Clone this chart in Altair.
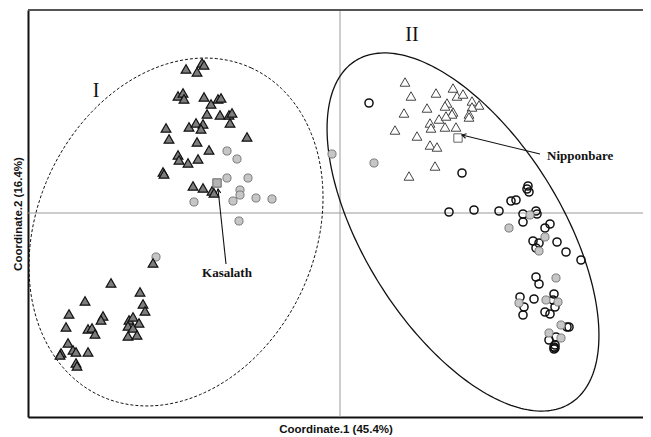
import math
import numpy as np
import pandas as pd
import altair as alt

# ---- data (Coordinate.1, Coordinate.2) ----
dark_tri_x = [-1.38, -1.36, -1.54, -1.43, -1.62, -1.57, -1.56, -1.36, -1.22, -1.19, -1.29, -1.33, -1.20, -1.11,
              -1.08, -1.10, -1.74, -1.51, -1.44, -1.37, -1.39, -1.71, -1.43, -1.31, -0.93, -1.62, -1.61, -1.52,
              -1.42, -1.77, -1.76, -1.47, -1.37, -1.28, -1.26,
              -1.87, -2.29, -2.00, -2.55, -1.97, -1.95, -2.71, -2.37, -2.39, -2.74, -2.11, -2.07, -2.01, -2.12,
              -2.07, -2.52, -2.48, -2.45, -2.12, -2.03, -2.72, -2.67, -2.64, -2.52, -2.79, -2.80, -2.64, -2.63]
dark_tri_y = [1.50, 1.48, 1.44, 1.41, 1.17, 1.20, 1.14, 1.16, 1.14, 1.15, 1.09, 0.99, 0.98, 0.98,
              1.00, 0.90, 0.85, 0.86, 0.90, 0.89, 0.84, 0.74, 0.71, 0.63, 0.76, 0.58, 0.53, 0.50,
              0.54, 0.41, 0.39, 0.27, 0.25, 0.22, 0.20,
              -0.50, -0.70, -0.79, -0.88, -0.91, -0.98, -1.01, -1.03, -1.07, -1.14, -1.07, -1.04, -1.10, -1.13,
              -1.15, -1.16, -1.15, -1.21, -1.23, -1.22, -1.30, -1.37, -1.39, -1.39, -1.40, -1.42, -1.50, -1.53]

gray_circ_x = [-1.13, -1.03, -1.13, -0.92, -1.00, -1.00, -1.07, -0.84, -0.68, -1.46, -1.01, -1.84, -0.08,
               0.34, 1.90, 1.69, 2.05, 1.99, 2.16, 1.79, 2.06, 2.18, 2.21, 2.09, 2.21]
gray_circ_y = [0.62, 0.54, 0.35, 0.35, 0.23, 0.18, 0.12, 0.15, 0.14, 0.11, -0.08, -0.44, 0.59,
               0.50, -0.02, -0.15, -0.24, -0.38, -0.65, -0.90, -0.87, -0.89, -1.12, -1.20, -1.25]

open_tri_x = [0.65, 0.71, 0.96, 1.13, 1.17, 1.23, 1.32, 1.39, 0.64, 0.87, 1.07, 1.05, 1.13, 1.12, 1.32,
              0.99, 1.06, 0.90, 0.91, 1.05, 1.16, 1.29, 1.29, 0.55, 0.77, 0.90, 0.97, 0.95, 0.69]
open_tri_y = [1.31, 1.17, 1.20, 1.25, 1.17, 1.19, 1.12, 1.08, 1.00, 1.05, 1.10, 1.07, 1.01, 0.99, 1.06,
              0.94, 0.97, 0.90, 0.85, 0.86, 0.86, 0.99, 0.96, 0.83, 0.77, 0.68, 0.66, 0.47, 0.37]

open_circ_x = [0.29, 1.22, 1.88, 1.89, 1.87, 1.71, 1.76, 1.09, 1.34, 1.59, 1.83, 1.83, 1.96, 1.97, 2.10,
               2.05, 1.93, 1.99, 1.96, 2.17, 2.26, 2.41, 1.96, 1.99, 1.80, 1.84, 1.83, 1.94, 2.14, 2.13,
               2.15, 2.05, 2.10, 2.27, 2.29, 2.09, 2.16, 2.14, 2.15, 2.14, 2.15]
open_circ_y = [1.10, 0.40, 0.27, 0.21, 0.24, 0.12, 0.13, 0.01, 0.03, 0.02, -0.01, -0.09, 0.02, -0.01, -0.11,
               -0.15, -0.28, -0.30, -0.35, -0.29, -0.39, -0.47, -0.64, -0.71, -0.84, -0.94, -1.02, -0.86,
               -0.81, -0.87, -0.94, -0.99, -1.01, -1.14, -1.14, -1.27, -1.24, -1.34, -1.35, -1.36, -1.32]

ref_names = ["Kasalath", "Nipponbare"]
ref_x = [-1.23, 1.18]
ref_y = [0.30, 0.75]
ref_fill = ["#b4b4b4", "#ffffff"]

# annotation arrows: label end -> variety point
arrow_x1 = [-1.14, 2.00]
arrow_y1 = [-0.51, 0.59]
arrow_x2 = [-1.22, 1.22]
arrow_y2 = [0.24, 0.78]
label_x = [-1.13, 2.07]
label_y = [-0.60, 0.57]

group_names = ["I", "II"]
group_x = [-2.44, 0.72]
group_y = [1.22, 1.78]

# ellipses: centre, semi-axes, orientation (deg)
ell_cx = [-1.64, 1.23]
ell_cy = [-0.19, -0.19]
ell_a = [1.805, 2.022]
ell_b = [1.389, 0.983]
ell_phi = [65.3, 122.1]

# ---- scales ----
W, H = 615, 407
xs = alt.Scale(domain=[-3.12, 3.03], nice=False, zero=False)
ys = alt.Scale(domain=[-2.04, 2.03], nice=False, zero=False)

axis_common = dict(labels=False, ticks=False, grid=False, domainColor="#111", domainWidth=2,
                   titleFont="Liberation Sans", titleFontSize=11.5, titleFontWeight="bold",
                   titleColor="#111")
xaxis = alt.Axis(title="Coordinate.1  (45.4%)", titlePadding=6, **axis_common)
yaxis = alt.Axis(title="Coordinate.2  (16.4%)", titlePadding=5, **axis_common)


def ellipse_df(i):
    t = np.linspace(0, 2 * np.pi, 241)
    p = math.radians(ell_phi[i])
    x = ell_cx[i] + ell_a[i] * np.cos(t) * math.cos(p) - ell_b[i] * np.sin(t) * math.sin(p)
    y = ell_cy[i] + ell_a[i] * np.cos(t) * math.sin(p) + ell_b[i] * np.sin(t) * math.cos(p)
    return pd.DataFrame({"x": x, "y": y, "o": np.arange(len(t))})


def X():
    return alt.X("x:Q", scale=xs, axis=xaxis)


def Y():
    return alt.Y("y:Q", scale=ys, axis=yaxis)


vline = alt.Chart(pd.DataFrame({"x": [0.0]})).mark_rule(color="#9a9a9a", strokeWidth=1).encode(x=X())
hline = alt.Chart(pd.DataFrame({"y": [0.0]})).mark_rule(color="#9a9a9a", strokeWidth=1).encode(y=Y())
top_frame = alt.Chart(pd.DataFrame({"k": [0]})).mark_rule(color="#555", strokeWidth=2).encode(
    x=alt.value(0), x2=alt.value(W), y=alt.value(0)
)

ell1 = alt.Chart(ellipse_df(0)).mark_line(color="#111", strokeWidth=1, strokeDash=[3, 2]).encode(
    x=X(), y=Y(), order="o:Q")
ell2 = alt.Chart(ellipse_df(1)).mark_line(color="#111", strokeWidth=1.3).encode(
    x=X(), y=Y(), order="o:Q")

open_c = alt.Chart(pd.DataFrame({"x": open_circ_x, "y": open_circ_y})).mark_point(
    shape="circle", filled=False, stroke="#111", strokeWidth=1.5, size=66, opacity=1).encode(x=X(), y=Y())
gray_c = alt.Chart(pd.DataFrame({"x": gray_circ_x, "y": gray_circ_y})).mark_point(
    shape="circle", filled=True, fill="#c6c6c6", stroke="#7a7a7a", strokeWidth=1, size=66, opacity=1,
    fillOpacity=1).encode(x=X(), y=Y())
dark_t = alt.Chart(pd.DataFrame({"x": dark_tri_x, "y": dark_tri_y})).mark_point(
    shape="triangle-up", filled=True, fill="#7d7d7d", stroke="#111", strokeWidth=1.2, size=95, opacity=1,
    fillOpacity=1).encode(x=X(), y=Y())
open_t = alt.Chart(pd.DataFrame({"x": open_tri_x, "y": open_tri_y})).mark_point(
    shape="triangle-up", filled=True, fill="#ffffff", stroke="#444", strokeWidth=1, size=95, opacity=1,
    fillOpacity=1).encode(x=X(), y=Y())
refs = alt.Chart(pd.DataFrame({"x": ref_x, "y": ref_y, "fill": ref_fill})).mark_point(
    shape="square", filled=True, stroke="#666", strokeWidth=1, size=70, opacity=1, fillOpacity=1).encode(
    x=X(), y=Y(), fill=alt.Fill("fill:N", scale=None))

arr_df = pd.DataFrame({"x": arrow_x1, "y": arrow_y1, "x2": arrow_x2, "y2": arrow_y2})
arrows = alt.Chart(arr_df).mark_rule(color="#111", strokeWidth=1.1).encode(
    x=X(), y=Y(), x2="x2:Q", y2="y2:Q")
heads_df = pd.DataFrame({
    "x": arrow_x2, "y": arrow_y2,
    "angle": [(math.degrees(math.atan2(x2 - x1, y2 - y1)) + 360) % 360
              for x1, y1, x2, y2 in zip(arrow_x1, arrow_y1, arrow_x2, arrow_y2)],
})
heads = alt.Chart(heads_df).mark_point(
    shape="M-0.55,1L0,0L0.55,1", filled=False, stroke="#111", strokeWidth=1.1, size=70, opacity=1).encode(
    x=X(), y=Y(), angle=alt.Angle("angle:Q", scale=None))

lab_df = pd.DataFrame({"x": label_x, "y": label_y, "t": ref_names})
lab_c = alt.Chart(lab_df.iloc[[0]]).mark_text(font="Liberation Serif", fontSize=13, fontWeight="bold",
                                               color="#111", align="center", baseline="middle").encode(
    x=X(), y=Y(), text="t:N")
lab_l = alt.Chart(lab_df.iloc[[1]]).mark_text(font="Liberation Serif", fontSize=13, fontWeight="bold",
                                               color="#111", align="left", baseline="middle").encode(
    x=X(), y=Y(), text="t:N")
grp = alt.Chart(pd.DataFrame({"x": group_x, "y": group_y, "t": group_names})).mark_text(
    font="Liberation Serif", fontSize=20, color="#111", align="center", baseline="middle").encode(
    x=X(), y=Y(), text="t:N")

chart = alt.layer(
    vline, hline, top_frame, ell1, ell2, open_c, gray_c, dark_t, open_t, refs, arrows, heads,
    lab_c, lab_l, grp
).properties(
    width=W, height=H,
    autosize=alt.AutoSizeParams(type="none"),
    padding={"left": 20, "top": 2, "right": 0, "bottom": 19},
    background="white",
).configure_view(stroke=None)

chart.save("out.html", embed_options={"renderer": "svg", "actions": False})
